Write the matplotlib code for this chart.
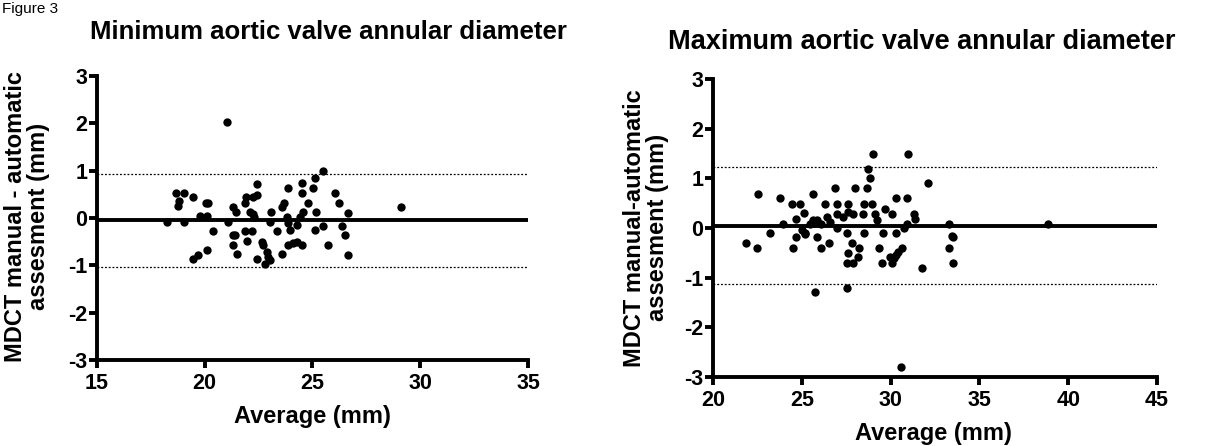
import matplotlib
matplotlib.use("Agg")
import matplotlib.pyplot as plt

plt.rcParams['font.family'] = ['Liberation Sans', 'DejaVu Sans']
plt.rcParams['font.weight'] = 'bold'
plt.rcParams['axes.unicode_minus'] = False

# Left panel: minimum annular diameter (average, difference)
min_avg = [21.02, 25.5, 18.67, 19.05, 19.44, 18.8, 18.77, 20.05, 20.15, 19.78,
           20.12, 18.26, 19.05, 20.4, 21.06, 21.33, 21.45, 21.87, 21.9, 22.44,
           22.44, 22.26, 22.1, 22.26, 22.3, 21.87, 22.2, 21.33, 21.4, 21.95,
           21.3, 21.5, 22.64, 22.69, 22.87, 22.95, 22.44, 23.03, 22.8, 19.47,
           19.7, 20.09, 23.06, 23.03, 23.34, 23.57, 23.68, 23.88, 23.6, 23.8,
           23.88, 23.96, 23.88, 24.1, 24.3, 24.5, 24.26, 24.42, 24.57, 24.53,
           24.53, 25.04, 25.1, 24.8, 25.16, 25.1, 25.47, 25.7, 26.04, 26.24,
           26.35, 26.5, 26.66, 26.66, 29.09]
min_diff = [2.03, 1.0, 0.53, 0.53, 0.44, 0.35, 0.25, 0.32, 0.32, 0.04,
            0.04, -0.08, -0.09, -0.27, -0.09, 0.24, 0.13, 0.32, 0.44, 0.72,
            0.49, 0.44, 0.13, 0.08, 0.03, -0.27, -0.28, -0.35, -0.35, -0.49,
            -0.57, -0.76, -0.5, -0.57, -0.71, -0.82, -0.87, -0.88, -0.97, -0.87,
            -0.78, -0.68, 0.13, -0.09, -0.27, 0.24, 0.31, 0.63, -0.76, 0.03,
            -0.1, -0.25, -0.57, -0.52, -0.5, -0.57, -0.14, 0.03, 0.13, 0.73,
            0.53, 0.63, 0.84, 0.32, 0.13, -0.25, -0.17, -0.57, 0.53, 0.32,
            -0.17, -0.35, 0.11, -0.78, 0.23]
min_bias = -0.05
min_loa = [0.93, -1.03]

# Right panel: maximum annular diameter
max_avg = [22.52, 23.77, 23.92, 23.21, 24.43, 24.9, 24.68, 25.1, 25.2, 25.62,
           25.65, 25.84, 25.46, 26.1, 26.31, 26.4, 26.59, 26.87, 26.96, 26.96,
           26.96, 27.34, 27.62, 27.62, 27.9, 27.57, 27.99, 28.47, 28.5, 28.5,
           28.66, 28.7, 28.85, 28.94, 29.03, 29.13, 29.22, 29.56, 29.69, 30.07,
           30.31, 30.31, 31.0, 30.95, 30.91, 32.1, 31.32, 31.38, 30.75, 33.3,
           33.45, 38.84,
           21.86, 22.5, 24.49, 24.68, 25.0, 25.18, 25.84, 26.07, 26.55, 25.75,
           27.81, 27.62, 27.53, 27.87, 28.24, 28.19, 27.57, 29.37, 29.5, 29.97,
           30.07, 30.2, 30.31, 30.44, 30.63, 30.57, 31.79, 33.26, 33.5, 33.54]
max_diff = [0.68, 0.6, 0.09, -0.11, 0.48, 0.48, 0.19, 0.3, -0.11, 0.68,
            0.17, 0.17, 0.09, 0.09, 0.49, 0.22, 0.12, 0.8, 0.49, 0.29,
            -0.01, 0.22, 0.49, 0.32, 0.29, -0.11, 0.8, 0.29, 0.49, -0.11,
            0.8, 1.18, 1.0, 0.49, 1.49, 0.29, 0.17, -0.11, 0.39, 0.29,
            -0.11, 0.6, 1.49, 0.6, 0.09, 0.9, 0.29, 0.19, -0.01, 0.09,
            -0.17, 0.09,
            -0.3, -0.41, -0.41, -0.19, -0.04, -0.12, -0.19, -0.41, -0.3, -1.28,
            -0.3, -0.5, -0.7, -0.7, -0.41, -0.59, -1.2, -0.41, -0.7, -0.59,
            -0.7, -0.61, -0.54, -0.48, -0.41, -2.79, -0.8, -0.41, -0.19, -0.7]
max_bias = 0.05
max_loa = [1.23, -1.13]

fig = plt.figure(figsize=(12.06, 4.46), dpi=100)

ax1 = fig.add_axes([0.0804, 0.1928, 0.3574, 0.6368])
ax2 = fig.add_axes([0.5912, 0.1547, 0.3682, 0.6682])


def bland_altman(ax, avg, diff, bias, loa, xlim, xticks):
    ax.scatter(avg, diff, s=36, color='black', zorder=3, clip_on=False, linewidths=0)
    ax.plot(xlim, [bias, bias], color='black', lw=2.8, zorder=2, solid_capstyle='butt')
    for v in loa:
        ax.plot(xlim, [v, v], color='black', lw=0.9, ls=(0, (1.5, 1.5)), zorder=2)
    ax.set_xlim(xlim)
    ax.set_ylim(-3, 3)
    ax.set_xticks(xticks)
    ax.set_yticks(range(-3, 4))
    for side in ['top', 'right']:
        ax.spines[side].set_visible(False)
    for side in ['left', 'bottom']:
        ax.spines[side].set_linewidth(2.8)
    ax.tick_params(width=2.8, length=6, labelsize=15.5, direction='out')
    ax.tick_params(axis='x', pad=3)
    ax.tick_params(axis='y', pad=1)
    for lab in ax.get_xticklabels() + ax.get_yticklabels():
        lab.set_fontweight('bold')


bland_altman(ax1, min_avg, min_diff, min_bias, min_loa, (15, 35), range(15, 36, 5))
bland_altman(ax2, max_avg, max_diff, max_bias, max_loa, (20, 45), range(20, 46, 5))

fig.text(0.272, 0.928, "Minimum aortic valve annular diameter", ha='center', va='center',
         fontsize=18.5, fontweight='bold')
fig.text(0.764, 0.906, "Maximum aortic valve annular diameter", ha='center', va='center',
         fontsize=19.5, fontweight='bold')

fig.text(0.022, 0.515, "MDCT manual - automatic\nassesment (mm)", rotation=90,
         ha='center', va='center', multialignment='center', fontsize=17,
         fontweight='bold', linespacing=1.0)
fig.text(0.536, 0.489, "MDCT manual-automatic\nassesment (mm)", rotation=90,
         ha='center', va='center', multialignment='center', fontsize=17,
         fontweight='bold', linespacing=1.0)

fig.text(0.259, 0.067, "Average (mm)", ha='center', va='center', fontsize=17, fontweight='bold')
fig.text(0.774, 0.029, "Average (mm)", ha='center', va='center', fontsize=17, fontweight='bold')

# figure caption in the top-left corner
fig.text(0.002, 0.995, "Figure 3", ha='left', va='top', fontsize=11, fontweight='normal')

fig.savefig("out.png", dpi=100)
